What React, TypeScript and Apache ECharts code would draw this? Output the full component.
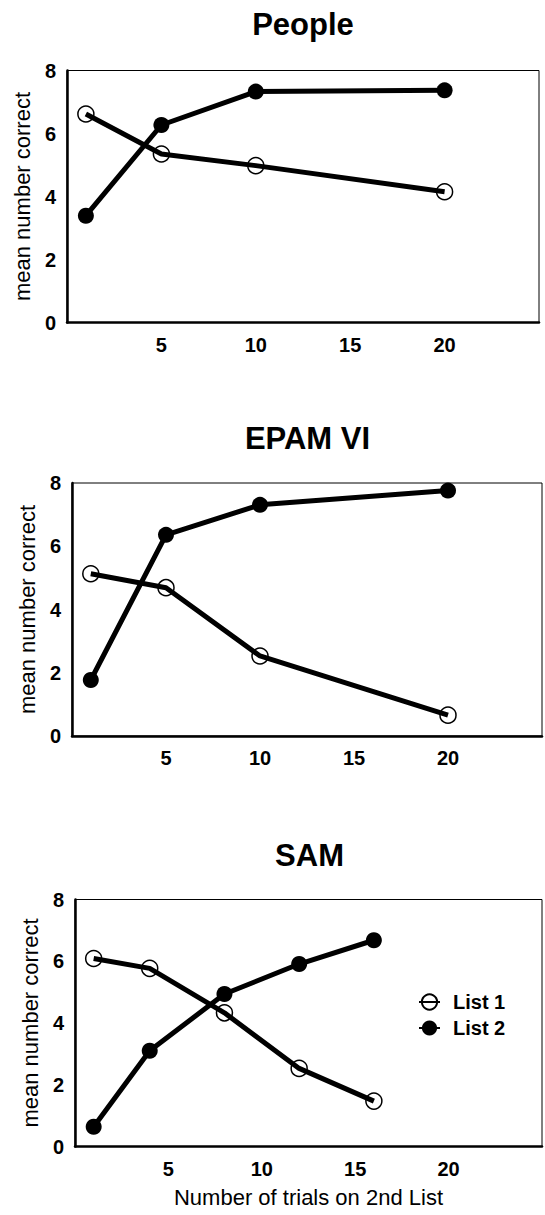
import React, { useEffect, useRef } from "react";
import * as echarts from "echarts";

const titles = ["People", "EPAM VI", "SAM"];
const trialsA = [1, 5, 10, 20];
const trialsSam = [1, 4, 8, 12, 16];
const peopleList1 = [6.62, 5.35, 4.98, 4.15];
const peopleList2 = [3.39, 6.27, 7.33, 7.37];
const epamList1 = [5.13, 4.69, 2.53, 0.66];
const epamList2 = [1.77, 6.36, 7.31, 7.76];
const samList1 = [6.09, 5.77, 4.33, 2.53, 1.47];
const samList2 = [0.64, 3.1, 4.94, 5.91, 6.68];
const seriesNames = ["List 1", "List 2"];
const xTickValues = [5, 10, 15, 20];
const yAxisName = "mean number correct";
const xAxisName = "Number of trials on 2nd List";

const FONT = '"Liberation Sans", Arial, Helvetica, sans-serif';

const grids = [
  { left: 67, right: 6, top: 70.5, height: 252 },
  { left: 72, right: 2, top: 483, height: 253 },
  { left: 75, right: 1, top: 899.5, height: 247 },
];
const titleY = [24, 438, 855];
const nameGaps = [24, 26, 23];

function zip(xs: number[], ys: number[]) {
  return xs.map((x, i) => [x, ys[i]]);
}

export default function App() {
  const ref = useRef<HTMLDivElement>(null);
  useEffect(() => {
    if (!ref.current) return;
    const chart = echarts.init(ref.current, undefined, { renderer: "svg" });
    const panels = [
      { x: trialsA, l1: peopleList1, l2: peopleList2 },
      { x: trialsA, l1: epamList1, l2: epamList2 },
      { x: trialsSam, l1: samList1, l2: samList2 },
    ];
    const series: any[] = [];
    panels.forEach((p, i) => {
      series.push({
        type: "line",
        name: seriesNames[0],
        xAxisIndex: i,
        yAxisIndex: i,
        data: zip(p.x, p.l1),
        symbol: "circle",
        symbolSize: 16,
        lineStyle: { color: "#000", width: 5 },
        itemStyle: { color: "rgba(0,0,0,0)", borderColor: "#000", borderWidth: 1.5 },
        z: 2,
      });
      series.push({
        type: "line",
        name: seriesNames[1],
        xAxisIndex: i,
        yAxisIndex: i,
        data: zip(p.x, p.l2),
        symbol: "circle",
        symbolSize: 16,
        lineStyle: { color: "#000", width: 5 },
        itemStyle: { color: "#000", borderColor: "#000", borderWidth: 0 },
        z: 3,
      });
    });

    const option: any = {
      animation: false,
      backgroundColor: "#fff",
      grid: grids.map((g) => ({
        ...g,
        show: true,
        borderColor: "#000",
        borderWidth: 1,
        containLabel: false,
      })),
      xAxis: grids.map((_, i) => ({
        type: "value",
        gridIndex: i,
        min: 0,
        max: 25,
        interval: 5,
        axisLine: { show: true, lineStyle: { color: "#000", width: 2.5 } },
        axisTick: { show: false },
        splitLine: { show: false },
        axisLabel: {
          color: "#000",
          fontFamily: FONT,
          fontWeight: "bold",
          fontSize: 20,
          margin: 12,
          formatter: (v: number) => (xTickValues.includes(v) ? String(v) : ""),
        },
        name: i === 2 ? xAxisName : "",
        nameLocation: "middle",
        nameGap: 40,
        nameTextStyle: { color: "#000", fontFamily: FONT, fontSize: 22 },
      })),
      yAxis: grids.map((_, i) => ({
        type: "value",
        gridIndex: i,
        min: 0,
        max: 8,
        interval: 2,
        axisLine: { show: true, lineStyle: { color: "#000", width: 2.5 } },
        axisTick: { show: false },
        splitLine: { show: false },
        axisLabel: {
          color: "#000",
          fontFamily: FONT,
          fontWeight: "bold",
          fontSize: 20,
          margin: 11,
        },
        name: yAxisName,
        nameLocation: "middle",
        nameGap: nameGaps[i],
        nameTextStyle: { color: "#000", fontFamily: FONT, fontSize: 22 },
      })),
      legend: {
        data: seriesNames,
        orient: "vertical",
        left: 413,
        top: 987,
        itemWidth: 21,
        itemHeight: 19,
        itemGap: 6,
        selectedMode: false,
        textStyle: {
          color: "#000",
          fontFamily: FONT,
          fontWeight: "bold",
          fontSize: 20,
          padding: [0, 0, 0, 8],
        },
      },
      graphic: titles.map((t, i) => ({
        type: "text",
        x: grids[i].left + (545 - grids[i].left - grids[i].right) / 2,
        y: titleY[i],
        style: {
          text: t,
          fill: "#000",
          font: `bold 31px ${FONT}`,
          textAlign: "center",
          textVerticalAlign: "middle",
        },
      })),
      series,
    };
    chart.setOption(option);
    return () => chart.dispose();
  }, []);
  return (
    <div
      ref={ref}
      style={{ position: "absolute", left: 0, top: 0, width: 545, height: 1215 }}
    />
  );
}
